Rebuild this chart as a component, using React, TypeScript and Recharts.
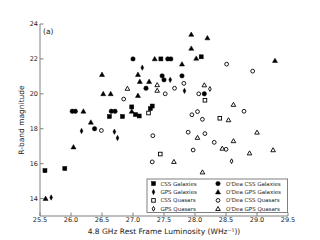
import React from 'react';
import { ScatterChart, Scatter, XAxis, YAxis, Customized, Label } from 'recharts';

const FONT = 'DejaVu Sans';
const INK = '#000';
const SPINE = '#808080';

const X_TICKS = [25.5, 26.0, 26.5, 27.0, 27.5, 28.0, 28.5, 29.0, 29.5];
const Y_TICKS = [14, 16, 18, 20, 22, 24];
const X_DOMAIN = [25.5, 29.5];
const Y_DOMAIN = [13, 24];
const X_LABEL = '4.8 GHz Rest Frame Luminosity (WHz\u207B\u00B9))';
const Y_LABEL = 'R-band magnitude';
const PANEL = '(a)';

const cssGalaxies: number[][] = [
  [25.58, 15.6], [25.9, 15.72], [26.62, 18.7], [26.83, 18.7], [26.98, 19.25],
  [27.04, 18.81], [27.1, 18.73], [27.28, 19.15], [27.31, 19.3], [27.45, 22.0], [28.1, 22.12],
];
const gpsGalaxies: number[][] = [
  [25.68, 14.06], [26.17, 17.87], [26.7, 17.83], [26.75, 17.47], [27.15, 21.5],
  [27.6, 20.8], [27.83, 20.17],
];
const cssQuasars: number[][] = [
  [27.25, 18.9], [27.44, 16.55], [28.16, 19.63], [28.4, 18.6],
];
const gpsQuasars: number[][] = [
  [28.24, 20.28], [28.59, 16.14],
];
const odeaCssGalaxies: number[][] = [
  [26.02, 19.0], [26.07, 19.0], [26.38, 18.0], [26.65, 19.0], [26.71, 19.0],
  [27.0, 22.0], [27.21, 20.32], [27.47, 21.03], [27.5, 20.8], [27.56, 22.0],
  [27.61, 22.0], [27.79, 21.03], [28.15, 20.0],
];
const odeaGpsGalaxies: number[][] = [
  [25.59, 14.0], [26.04, 16.95], [26.2, 19.0], [26.32, 18.37], [26.5, 21.1],
  [26.52, 20.0], [26.64, 20.0], [26.98, 19.0], [27.08, 21.1], [27.08, 19.9],
  [27.11, 20.7], [27.26, 20.7], [27.35, 22.0], [27.79, 21.7], [27.94, 23.4],
  [27.94, 22.6], [28.02, 22.03], [28.2, 23.2], [29.29, 21.9],
];
const odeaCssQuasars: number[][] = [
  [26.49, 17.9], [26.85, 19.7], [27.31, 16.1], [27.32, 17.6], [27.52, 20.0],
  [27.67, 20.32], [27.82, 20.6], [27.89, 17.8], [27.95, 18.8], [27.97, 16.78],
  [28.04, 18.98], [28.06, 20.0], [28.12, 18.54], [28.16, 17.72], [28.31, 17.22],
  [28.5, 16.82], [28.51, 21.7], [28.79, 19.0], [28.93, 21.3],
];
const odeaGpsQuasars: number[][] = [
  [26.91, 20.3], [27.39, 20.51], [27.39, 20.19], [27.66, 16.11], [28.04, 17.49],
  [28.12, 15.51], [28.15, 20.5], [28.44, 16.87], [28.54, 18.5], [28.62, 19.38],
  [28.62, 17.3], [28.88, 16.6], [29.0, 17.79], [29.26, 16.78],
];

type Kind = 'square' | 'diamond' | 'circle' | 'triangle';
const SERIES: { name: string; data: number[][]; kind: Kind; filled: boolean }[] = [
  { name: 'CSS Galaxies', data: cssGalaxies, kind: 'square', filled: true },
  { name: 'GPS Galaxies', data: gpsGalaxies, kind: 'diamond', filled: true },
  { name: 'CSS Quasars', data: cssQuasars, kind: 'square', filled: false },
  { name: 'GPS Quasars', data: gpsQuasars, kind: 'diamond', filled: false },
  { name: "O'Dea CSS Galaxies", data: odeaCssGalaxies, kind: 'circle', filled: true },
  { name: "O'Dea GPS Galaxies", data: odeaGpsGalaxies, kind: 'triangle', filled: true },
  { name: "O'Dea CSS Quasars", data: odeaCssQuasars, kind: 'circle', filled: false },
  { name: "O'Dea GPS Quasars", data: odeaGpsQuasars, kind: 'triangle', filled: false },
];

function drawMarker(kind: Kind, filled: boolean, cx: number, cy: number) {
  const fill = filled ? INK : '#fff';
  const sw = filled ? 0.5 : 0.9;
  if (kind === 'square') {
    const h = filled ? 2.0 : 1.8;
    return <rect x={cx - h} y={cy - h} width={2 * h} height={2 * h} fill={fill} stroke={INK} strokeWidth={sw} />;
  }
  if (kind === 'circle') {
    return <circle cx={cx} cy={cy} r={filled ? 2.2 : 1.9} fill={fill} stroke={INK} strokeWidth={sw} />;
  }
  if (kind === 'triangle') {
    const s = filled ? 2.5 : 2.3;
    const pts = `${cx},${cy - s} ${cx + s},${cy + s * 0.75} ${cx - s},${cy + s * 0.75}`;
    return <polygon points={pts} fill={fill} stroke={INK} strokeWidth={sw} strokeLinejoin="miter" />;
  }
  const w = filled ? 1.4 : 1.3;
  const h = filled ? 2.7 : 2.4;
  const pts = `${cx},${cy - h} ${cx + w},${cy} ${cx},${cy + h} ${cx - w},${cy}`;
  return <polygon points={pts} fill={fill} stroke={INK} strokeWidth={sw} />;
}

const makeShape = (kind: Kind, filled: boolean) => (props: any) => {
  const { cx, cy } = props;
  if (cx == null || cy == null) return <g />;
  return <g>{drawMarker(kind, filled, cx, cy)}</g>;
};

const BottomTick = (props: any) => {
  const { x, y, payload } = props;
  return (
    <g>
      <line x1={x} x2={x} y1={y} y2={y - 3.5} stroke={SPINE} strokeWidth={1} />
      <text x={x} y={y + 6} textAnchor="middle" fontFamily={FONT} fontSize={6.5} fill="#222">
        {Number(payload.value).toFixed(1)}
      </text>
    </g>
  );
};
const LeftTick = (props: any) => {
  const { x, y, payload } = props;
  return (
    <g>
      <line x1={x} x2={x + 3.5} y1={y} y2={y} stroke={SPINE} strokeWidth={1} />
      <text x={x - 2} y={y + 2.3} textAnchor="end" fontFamily={FONT} fontSize={6.5} fill="#222">
        {String(payload.value)}
      </text>
    </g>
  );
};
const TopTick = (props: any) => {
  const { x, y } = props;
  return <line x1={x} x2={x} y1={y} y2={y + 3.5} stroke={SPINE} strokeWidth={1} />;
};
const RightTick = (props: any) => {
  const { x, y } = props;
  return <line x1={x} x2={x - 3.5} y1={y} y2={y} stroke={SPINE} strokeWidth={1} />;
};

const LegendBox = () => {
  const left = 147;
  const top = 179;
  const w = 140.5;
  const h = 33.5;
  const rowY = [183.6, 192.0, 200.4, 208.8];
  const colMarkerX = [153.5, 218];
  const colTextX = [160.5, 226];
  return (
    <g>
      <rect x={left} y={top} width={w} height={h} fill="#fff" stroke={SPINE} strokeWidth={1} />
      {SERIES.map((s, i) => {
        const col = i < 4 ? 0 : 1;
        const row = i % 4;
        return (
          <g key={s.name}>
            {drawMarker(s.kind, s.filled, colMarkerX[col], rowY[row])}
            <text x={colTextX[col]} y={rowY[row] + 2} fontFamily={FONT} fontSize={5.5} fill="#222">
              {s.name}
            </text>
          </g>
        );
      })}
    </g>
  );
};

const PanelTag = () => (
  <text x={43} y={33.5} fontFamily={FONT} fontSize={7.5} fill="#222">{PANEL}</text>
);

export default function App() {
  return (
    <div style={{ position: 'absolute', left: 0, top: 0, background: '#fff' }}>
      <ScatterChart width={320} height={240} margin={{ top: 24, right: 32, bottom: 0, left: 0 }}>
        <XAxis
          type="number"
          dataKey="x"
          xAxisId="bottom"
          domain={X_DOMAIN}
          ticks={X_TICKS}
          interval={0}
          height={24}
          tickSize={0}
          tickMargin={0}
          tickLine={false}
          tick={<BottomTick />}
          axisLine={{ stroke: SPINE, strokeWidth: 1 }}
          allowDataOverflow
        >
          <Label value={X_LABEL} position="insideBottom" offset={6} fontFamily={FONT} fontSize={7.5} fill="#222" />
        </XAxis>
        <XAxis
          type="number"
          dataKey="x"
          xAxisId="top"
          orientation="top"
          domain={X_DOMAIN}
          ticks={X_TICKS}
          interval={0}
          height={0}
          tickSize={0}
          tickMargin={0}
          tickLine={false}
          tick={<TopTick />}
          axisLine={{ stroke: SPINE, strokeWidth: 1 }}
          allowDataOverflow
        />
        <YAxis
          type="number"
          dataKey="y"
          yAxisId="left"
          domain={Y_DOMAIN}
          ticks={Y_TICKS}
          interval={0}
          width={40}
          tickSize={0}
          tickMargin={0}
          tickLine={false}
          tick={<LeftTick />}
          axisLine={{ stroke: SPINE, strokeWidth: 1 }}
          allowDataOverflow
        >
          <Label
            value={Y_LABEL}
            angle={-90}
            position="insideLeft"
            offset={21}
            fontFamily={FONT}
            fontSize={7.5}
            fill="#222"
            style={{ textAnchor: 'middle' }}
          />
        </YAxis>
        <YAxis
          type="number"
          dataKey="y"
          yAxisId="right"
          orientation="right"
          domain={Y_DOMAIN}
          ticks={Y_TICKS}
          interval={0}
          width={0}
          tickSize={0}
          tickMargin={0}
          tickLine={false}
          tick={<RightTick />}
          axisLine={{ stroke: SPINE, strokeWidth: 1 }}
          allowDataOverflow
        />
        {SERIES.map((s) => (
          <Scatter
            key={s.name}
            name={s.name}
            xAxisId="bottom"
            yAxisId="left"
            data={s.data.map(([x, y]) => ({ x, y }))}
            shape={makeShape(s.kind, s.filled)}
            isAnimationActive={false}
          />
        ))}
        <Customized component={PanelTag} />
        <Customized component={LegendBox} />
      </ScatterChart>
    </div>
  );
}
